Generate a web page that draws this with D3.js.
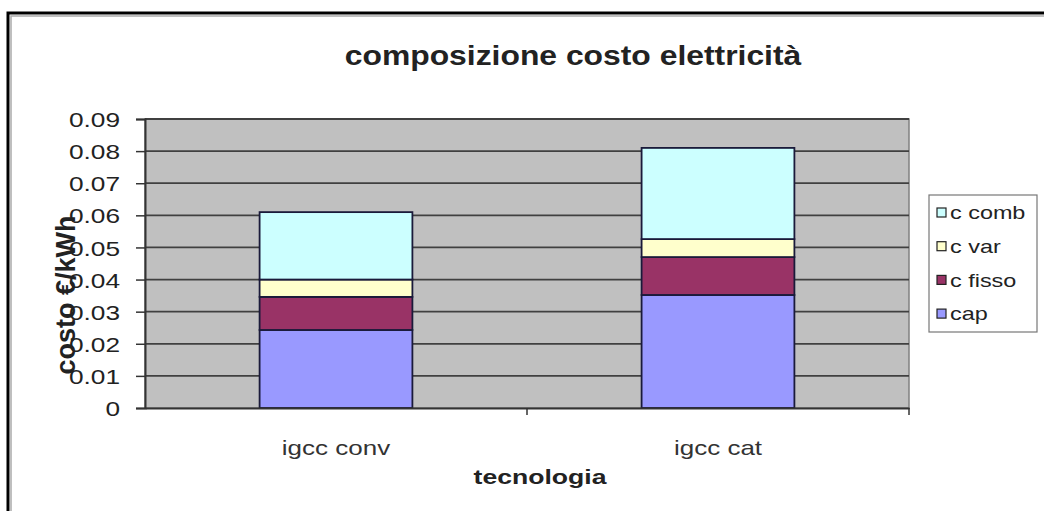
<!DOCTYPE html>
<html><head><meta charset="utf-8">
<script src="https://cdn.jsdelivr.net/npm/d3@7"></script>
<style>body{margin:0;background:#fff;}svg{display:block;font-family:"Liberation Sans",Arial,sans-serif;}</style>
</head><body>
<script>
const categories = ["igcc conv", "igcc cat"];
const seriesNames = ["cap", "c fisso", "c var", "c comb"];
const cap = [0.0243, 0.0352];
const cFisso = [0.0103, 0.0118];
const cVar = [0.0054, 0.0056];
const cComb = [0.0210, 0.0284];
const yTicks = [0, 0.01, 0.02, 0.03, 0.04, 0.05, 0.06, 0.07, 0.08, 0.09];
const colors = ["#9999ff", "#993366", "#ffffcc", "#ccffff"];

const W = 1044, H = 511;
const svg = d3.select("body").append("svg").attr("width", W).attr("height", H);
svg.append("rect").attr("width", W).attr("height", H).attr("fill", "#fff");
// outer frame
svg.append("path").attr("d", `M8,${H} V13 H${W}`).attr("fill", "none").attr("stroke", "#000").attr("stroke-width", 3);
svg.append("path").attr("d", `M11,${H} V16 H${W}`).attr("fill", "none").attr("stroke", "#aaa").attr("stroke-width", 1.5);

const m = {l: 145, r: 909, t: 119, b: 408};
const x = d3.scaleBand().domain(categories).range([m.l, m.r]).paddingInner(0.6).paddingOuter(0.3);
const y = d3.scaleLinear().domain([0, 0.09]).range([m.b, m.t]);

svg.append("rect").attr("x", m.l).attr("y", m.t).attr("width", m.r - m.l).attr("height", m.b - m.t)
  .attr("fill", "#c0c0c0").attr("stroke", "#808080").attr("stroke-width", 1.5);

svg.append("g").selectAll("line").data(yTicks.slice(1)).join("line")
  .attr("x1", m.l).attr("x2", m.r).attr("y1", d => y(d)).attr("y2", d => y(d))
  .attr("stroke", "#404040").attr("stroke-width", 1.8);

const rows = categories.map((c, i) => ({cat: c, "cap": cap[i], "c fisso": cFisso[i], "c var": cVar[i], "c comb": cComb[i]}));
const stacked = d3.stack().keys(seriesNames)(rows);
svg.append("g").selectAll("g").data(stacked).join("g")
  .attr("fill", (d, i) => colors[i])
  .selectAll("rect").data(d => d).join("rect")
  .attr("x", d => x(d.data.cat)).attr("width", x.bandwidth())
  .attr("y", d => y(d[1])).attr("height", d => y(d[0]) - y(d[1]))
  .attr("stroke", "#1a1a3a").attr("stroke-width", 1.8);

// axes
const yAxis = svg.append("g").attr("transform", `translate(${m.l},0)`)
  .call(d3.axisLeft(y).tickValues(yTicks).tickSize(9).tickFormat(d => d === 0 ? "0" : d3.format(".2f")(d)));
yAxis.select(".domain").attr("stroke", "#333").attr("stroke-width", 2);
yAxis.selectAll(".tick line").attr("stroke", "#333").attr("stroke-width", 1.5);
yAxis.selectAll("text").attr("font-size", 21).attr("fill", "#222").attr("dy", "0.36em")
  .attr("x", 0).attr("transform", "translate(-25,0) scale(1.25,1)");

const xAxis = svg.append("g").attr("transform", `translate(0,${m.b})`)
  .call(d3.axisBottom(x).tickSize(0).tickPadding(0));
xAxis.select(".domain").attr("stroke", "#333").attr("stroke-width", 2);
xAxis.selectAll("text").attr("font-size", 20).attr("fill", "#333").attr("dy", 0).attr("y", 0)
  .attr("transform", "translate(0,47) scale(1.3,1)");
// tick between categories
svg.append("line").attr("x1", (m.l + m.r) / 2).attr("x2", (m.l + m.r) / 2).attr("y1", m.b).attr("y2", m.b + 7)
  .attr("stroke", "#333").attr("stroke-width", 1.5);
svg.append("line").attr("x1", m.r).attr("x2", m.r).attr("y1", m.b).attr("y2", m.b + 7)
  .attr("stroke", "#333").attr("stroke-width", 1.5);

svg.append("text").attr("transform", "translate(573,65) scale(1.18,1)").attr("text-anchor", "middle")
  .attr("font-size", 27).attr("font-weight", "bold").attr("fill", "#222").text("composizione costo elettricità");
svg.append("text").attr("transform", "translate(540,484) scale(1.33,1)").attr("text-anchor", "middle")
  .attr("font-size", 20).attr("font-weight", "bold").attr("fill", "#222").text("tecnologia");
svg.append("text").attr("transform", "translate(75,295) rotate(-90)").attr("text-anchor", "middle")
  .attr("font-size", 27).attr("font-weight", "bold").attr("fill", "#222").text("costo €/kWh");

// legend
const lg = svg.append("g");
lg.append("rect").attr("x", 929).attr("y", 195).attr("width", 108).attr("height", 137)
  .attr("fill", "#fff").attr("stroke", "#777").attr("stroke-width", 1.2);
const legendOrder = ["c comb", "c var", "c fisso", "cap"];
legendOrder.forEach((name, i) => {
  const idx = seriesNames.indexOf(name);
  const yy = 213 + i * 33.7;
  lg.append("rect").attr("x", 937).attr("y", yy - 5).attr("width", 9).attr("height", 9)
    .attr("fill", colors[idx]).attr("stroke", "#222").attr("stroke-width", 1.2);
  lg.append("text").attr("transform", `translate(950,${yy}) scale(1.3,1)`).attr("dy", "0.35em")
    .attr("font-size", 18).attr("fill", "#222").text(name);
});
</script>
</body></html>
